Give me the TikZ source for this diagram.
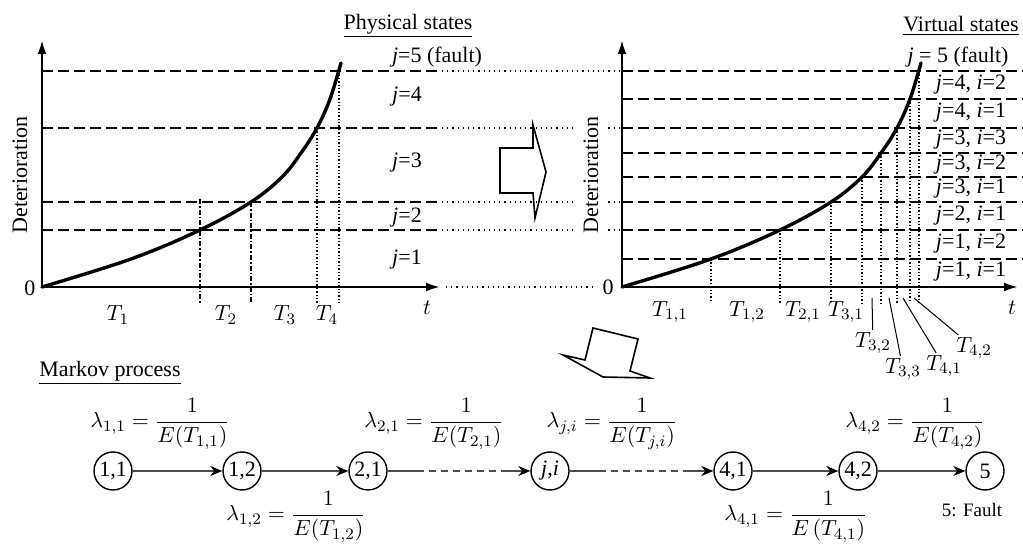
\documentclass[tikz,border=0pt]{standalone}
\usepackage{amsmath}
\usepackage{fontspec}
\setmainfont{Liberation Serif}
\usetikzlibrary{arrows.meta,calc}

\begin{document}
\begin{tikzpicture}[
  x=0.5pt, y=-0.5pt,
  font=\fontsize{11}{13}\selectfont,
  >=Stealth,
  axis/.style={line width=1.2pt, -{Latex[length=7pt,width=4.5pt]}},
  curve/.style={line width=1.7pt, line cap=round},
  level/.style={line width=1pt, dash pattern=on 5.5pt off 2.5pt},
  mainlevel/.style={line width=1.4pt, dash pattern=on 5.5pt off 2.5pt},
  cut/.style={line width=0.7pt, densely dotted},
  split/.style={line width=1pt, dash pattern=on 2.5pt off 1pt on 0.8pt off 1pt},
  link/.style={line width=0.6pt, dotted},
  state/.style={circle, draw, line width=0.7pt, minimum size=19pt, inner sep=0pt},
  trans/.style={line width=0.8pt, black!70, -{Stealth[color=black,length=6pt,width=5pt]}},
  gapline/.style={trans, dash pattern=on 18pt off 2.5pt on 3.5pt off 2.5pt on 3.5pt off 2.5pt on 3.5pt off 2.5pt on 3.5pt off 2.5pt on 3.5pt off 2.5pt on 3.5pt off 2.5pt on 60pt},
  bigarrow/.style={line width=0.8pt, line join=miter},
]
  \useasboundingbox (0,0) rectangle (1023,544);

  % Left plot: physical states
  \draw[axis] (42,287) -- (42,40);
  \draw[axis] (42,287) -- (440,287);
  \foreach \y in {71,128,202} {
    \draw[level] (42,\y) -- (440,\y);
  }
  \draw[mainlevel] (42,230) -- (440,230);
  \draw[split] (200,199) -- (200,303);
  \draw[split] (251,202) -- (251,303);
  \draw[cut] (317,128) -- (317,303);
  \draw[cut] (339,71) -- (339,303);
  \draw[curve] plot[smooth, tension=0.6] coordinates {(42,287) (131,259) (200,230) (251,202) (282,177) (301,153) (317,128) (330,99) (341,63)};

  \node (d1) at (20,175) [rotate=90] {Deterioration};
  \node (o1) at (30,288) {0};
  \node (t1) at (427,308) {$t$};
  \node (hp) at (408,26) {\underline{Physical states}};
  \node (p5) at (437,57) {\textit{j}=5 (fault)};
  \foreach \y/\j in {97/4, 163/3, 218/2, 260/1} {
    \node (p\j) at (407,\y) {\textit{j}=\j};
  }
  \foreach \x/\k in {118/1, 226/2, 285/3, 327/4} {
    \node (T\k) at (\x,315) {$T_{\k}$};
  }

  % Dotted links between the plots
  \foreach \y in {71,128,202} {
    \draw[link] (442,\y) -- (622,\y);
  }
  \draw[link, line width=1.2pt] (442,230) -- (622,230);
  \draw[link] (446,287) -- (595,287);

  % Right plot: virtual states
  \node (d2) at (591,175) [rotate=90, fill=white, inner xsep=2pt, inner ysep=4pt] {Deterioration};
  \draw[axis] (622,287) -- (622,40);
  \draw[axis] (622,287) -- (1018,287);
  \foreach \y in {99,153,177,202,259} {
    \draw[level] (622,\y) -- (1023,\y);
  }
  \foreach \y in {71,128,230} {
    \draw[mainlevel] (622,\y) -- (1023,\y);
  }
  \foreach \x/\y in {711/259, 780/230, 831/202, 862/177, 881/153, 897/128, 910/99, 919/71} {
    \draw[cut] (\x,\y) -- (\x,303);
  }
  \draw[curve] plot[smooth, tension=0.6] coordinates {(622,287) (711,259) (780,230) (831,202) (862,177) (881,153) (897,128) (910,99) (921,63)};

  \node (o2) at (608,287) {0};
  \node (t2) at (1012,308) {$t$};
  \node (hv) at (961,26) {\underline{Virtual states}};
  \node (v5) at (958,57) {\textit{j} = 5 (fault)};
  \foreach \y/\j/\i in {85/4/2, 113/4/1, 140/3/3, 165/3/2, 189/3/1, 216/2/1, 244/1/2, 272/1/1} {
    \node (v\j\i) at (971,\y) {\textit{j}=\j, \textit{i}=\i};
  }
  \foreach \x/\k in {670/{1,1}, 747/{1,2}, 803/{2,1}, 846/{3,1}} {
    \node at (\x,312) {$T_{\k}$};
  }

  % Leaders to the short intervals
  \coordinate (c32) at (872,298);
  \coordinate (c33) at (889,298);
  \coordinate (c41) at (903,298);
  \coordinate (c42) at (914,298);
  \node[inner sep=1pt] (T32) at (873,343) {$T_{3,2}$};
  \node[inner sep=1pt] (T33) at (903,369) {$T_{3,3}$};
  \node[inner sep=1pt] (T41) at (944,366) {$T_{4,1}$};
  \node[inner sep=1pt] (T42) at (974,348) {$T_{4,2}$};
  \draw[line width=0.5pt] (c32) -- (T32);
  \draw[line width=0.5pt] (c33) -- (T33);
  \draw[line width=0.5pt] (c41) -- (T41);
  \draw[line width=0.5pt] (c42) -- (T42);

  % Block arrows
  \draw[bigarrow] (500,148) -- (533,148) -- (533,125) -- (546,172) -- (535,218) -- (533,193) -- (500,193) -- cycle;
  \draw[bigarrow] (593,328) -- (638,339) -- (630,371) -- (650,378) -- (603,377) -- (563,355) -- (585,360) -- cycle;

  % Markov process
  \node (hm) at (110,373) {\underline{Markov process}};
  \node[state] (s11) at (113,471) {1,1};
  \node[state] (s12) at (242,471) {1,2};
  \node[state] (s21) at (368,471) {2,1};
  \node[state] (sji) at (550,471) {\textit{j},\textit{i}};
  \node[state] (s41) at (733,471) {4,1};
  \node[state] (s42) at (858,471) {4,2};
  \node[state] (s5) at (985,471) {5};
  \draw[trans] (s11) -- (s12);
  \draw[trans] (s12) -- (s21);
  \draw[gapline] (s21) -- (sji);
  \draw[gapline] (sji) -- (s41);
  \draw[trans] (s41) -- (s42);
  \draw[trans] (s42) -- (s5);

  \node (r11) at (160,424) {$\lambda_{1,1}=\dfrac{1}{E(T_{1,1})}$};
  \node (r12) at (296,517) {$\lambda_{1,2}=\dfrac{1}{E(T_{1,2})}$};
  \node (r21) at (434,424) {$\lambda_{2,1}=\dfrac{1}{E(T_{2,1})}$};
  \node (rji) at (612,424) {$\lambda_{j,i}=\dfrac{1}{E(T_{j,i})}$};
  \node (r41) at (796,517) {$\lambda_{4,1}=\dfrac{1}{E\,(T_{4,1})}$};
  \node (r42) at (915,424) {$\lambda_{4,2}=\dfrac{1}{E(T_{4,2})}$};
  \node[font=\fontsize{9.5}{11}\selectfont] (ft) at (972,510) {5: Fault};
\end{tikzpicture}
\end{document}
